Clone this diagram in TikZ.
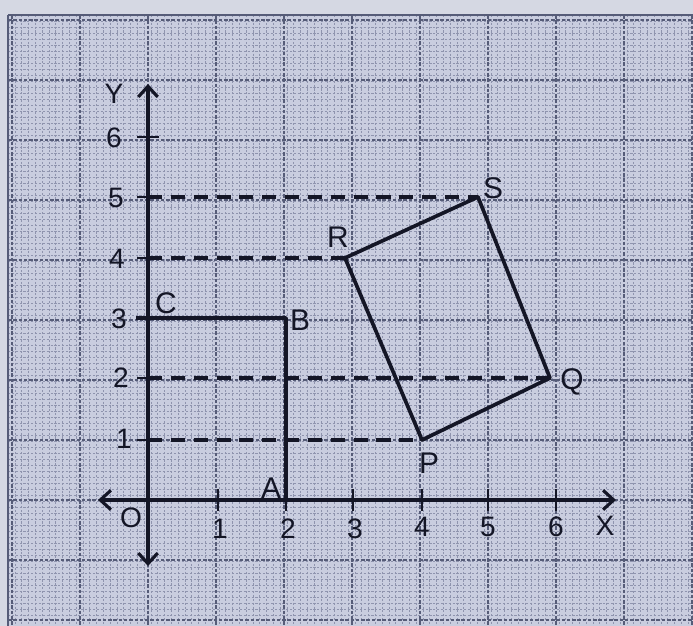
\documentclass[tikz,border=0pt]{standalone}
\usepackage{fontspec}
\setmainfont{Liberation Sans}
\usetikzlibrary{arrows.meta}
\definecolor{paper}{HTML}{C9CDDF}
\definecolor{paperTop}{HTML}{D5D8E3}
\definecolor{gridMinor}{HTML}{8F94AE}
\definecolor{gridMajor}{HTML}{565C78}
\definecolor{ink}{HTML}{141626}
\tikzset{
  axisline/.style={ink, line width=1.8pt, -{Straight Barb[length=6pt,width=11pt,line width=1.8pt]}},
  figline/.style={ink, line width=2.1pt, line join=round},
  guide/.style={ink, line width=1.8pt, dash pattern=on 8pt off 5pt},
  ticklbl/.style={ink, font=\fontsize{16}{16}\selectfont},
  ptlbl/.style={ink, font=\fontsize{17}{17}\selectfont},
  tickmark/.style={ink, line width=1.5pt}
}
\begin{document}
\begin{tikzpicture}[x=0.2mm,y=-0.2mm]
\useasboundingbox (0,0) rectangle (693,626);
\fill[paperTop] (0,0) rectangle (693,626);
\fill[paper] (8,15) rectangle (693,626);
% minor grid
\foreach \i in {0,...,100} {
  \pgfmathsetmacro\xx{8+6.8*\i}
  \ifdim\xx pt<693pt \draw[gridMinor, line width=0.3pt, dash pattern=on 1.2pt off 1pt] (\xx,15) -- (\xx,626); \fi
}
\foreach \i in {0,...,100} {
  \pgfmathsetmacro\yy{15+6.0*\i}
  \ifdim\yy pt<626pt \draw[gridMinor, line width=0.3pt, dash pattern=on 1.2pt off 1pt] (8,\yy) -- (693,\yy); \fi
}
% major grid
\foreach \xx in {12,80,148,216,284,352,420,488,556,624,692} {
  \draw[gridMajor, line width=0.6pt, dash pattern=on 2pt off 1pt] (\xx,15) -- (\xx,626);
}
\foreach \yy in {20,80,140,200,260,320,380,440,500,560,620} {
  \draw[gridMajor, line width=0.6pt, dash pattern=on 2pt off 1pt] (8,\yy) -- (693,\yy);
}
\draw[gridMajor, line width=0.8pt] (8,15) -- (693,15);
\draw[gridMajor, line width=0.8pt] (8,15) -- (8,626);

% coordinates
\coordinate (O) at (148,500);
\coordinate (A) at (286,500);
\coordinate (B) at (286,318);
\coordinate (C) at (148,318);
\coordinate (Cl) at (136,318);
\coordinate (P) at (422,440);
\coordinate (Q) at (550,378);
\coordinate (S) at (478,197);
\coordinate (R) at (345,258);
\coordinate (yP) at (148,440);
\coordinate (yQ) at (148,378);
\coordinate (yR) at (148,258);
\coordinate (yS) at (148,197);
\coordinate (xL) at (98,500);
\coordinate (xR) at (616,500);
\coordinate (yT) at (148,84);
\coordinate (yB) at (148,566);

% dashed guides
\draw[guide] (yS) -- (S);
\draw[guide] (yR) -- (R);
\draw[guide] (yQ) -- (Q);
\draw[guide] (yP) -- (P);

% axes
\draw[axisline] (O) -- (xR);
\draw[axisline] (O) -- (xL);
\draw[axisline] (O) -- (yT);
\draw[axisline] (O) -- (yB);

% ticks
\foreach \xx in {218,286,353,422,488,556} {
  \draw[tickmark] (\xx,489) -- (\xx,511);
}
\foreach \yy in {137,197,258,318,378,440} {
  \draw[tickmark] (137,\yy) -- (159,\yy);
}

% figures
\draw[figline] (Cl) -- (B) -- (A);
\draw[figline] (P) -- (Q) -- (S) -- (R) -- cycle;

% tick labels
\node[ticklbl] (lO) at (131,518) {O};
\node[ticklbl] (l1) at (220,529) {1};
\node[ticklbl] (l2) at (288,529) {2};
\node[ticklbl] (l3) at (355,529) {3};
\node[ticklbl] (l4) at (422,527) {4};
\node[ticklbl] (l5) at (488,527) {5};
\node[ticklbl] (l6) at (556,527) {6};
\node[ticklbl] (lX) at (605,526) {X};
\node[ticklbl] (m1) at (124,439) {1};
\node[ticklbl] (m2) at (121,378) {2};
\node[ticklbl] (m3) at (119,319) {3};
\node[ticklbl] (m4) at (117,259) {4};
\node[ticklbl] (m5) at (116,198) {5};
\node[ticklbl] (m6) at (114,138) {6};
\node[ticklbl] (lY) at (114,94) {Y};

% point labels
\node[ptlbl] (tA) at (271,488) {A};
\node[ptlbl] (tB) at (300,320) {B};
\node[ptlbl] (tC) at (166,303) {C};
\node[ptlbl] (tP) at (429,463) {P};
\node[ptlbl] (tQ) at (572,382) {Q};
\node[ptlbl] (tS) at (493,188) {S};
\node[ptlbl] (tR) at (338,237) {R};
\end{tikzpicture}
\end{document}
